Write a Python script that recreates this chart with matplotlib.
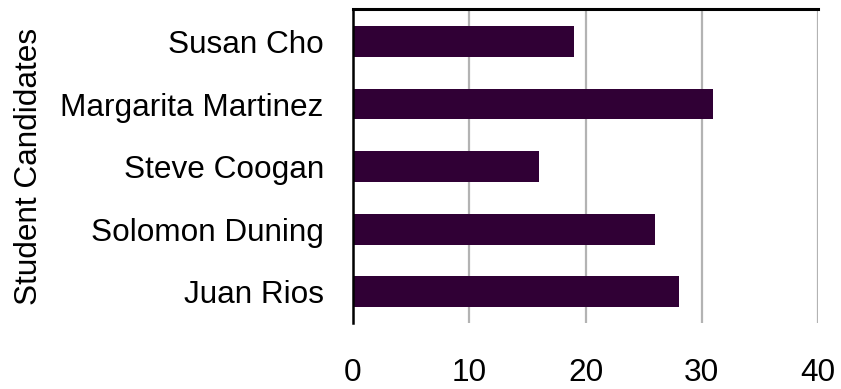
import matplotlib
matplotlib.use("Agg")
import matplotlib.pyplot as plt

candidates = ["Juan Rios", "Solomon Duning", "Steve Coogan", "Margarita Martinez", "Susan Cho"]
votes = [28, 26, 16, 31, 19]
x_ticks = [0, 10, 20, 30, 40]

plt.rcParams['font.family'] = ['Liberation Sans', 'DejaVu Sans']

W, H = 841, 389
FS = 22.7
fig = plt.figure(figsize=(W / 100, H / 100), dpi=100)
ax = fig.add_axes([353 / W, 1 - 323 / H, (818 - 353) / W, (323 - 9) / H])

ax.barh(range(len(candidates)), votes, height=0.49, color='#300035', zorder=3)
ax.set_ylim(-0.5, len(candidates) - 0.5 + 0.02)
ax.set_xlim(0, 40)
ax.set_xticks(x_ticks)
ax.set_xticklabels([str(t) for t in x_ticks], fontsize=FS)
ax.set_yticks(range(len(candidates)))
ax.set_yticklabels(candidates, fontsize=FS)
ax.tick_params(axis='y', length=0, pad=21)
ax.tick_params(axis='x', length=0, pad=25)
ax.xaxis.grid(True, color='#b3b3b3', linewidth=1.6, zorder=0)
ax.set_axisbelow(True)

for s in ['right', 'bottom']:
    ax.spines[s].set_visible(False)
ax.spines['left'].set_linewidth(1.8)
ax.spines['left'].set_color('black')
ax.spines['left'].set_zorder(4)
ax.spines['top'].set_linewidth(2.2)
ax.spines['top'].set_color('black')

ax.set_ylabel("Student Candidates", fontsize=FS, labelpad=12)

fig.savefig("out.png", dpi=100, facecolor='white')
